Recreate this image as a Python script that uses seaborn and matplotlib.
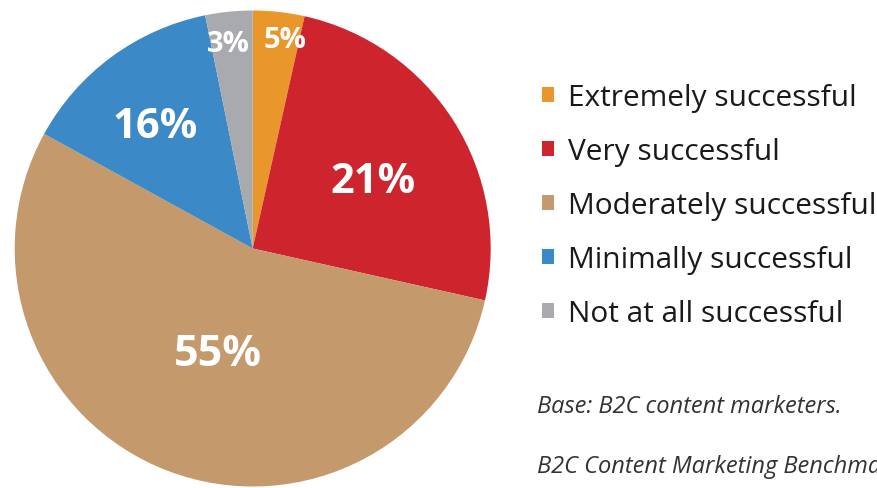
import numpy as np
import matplotlib.pyplot as plt
import seaborn as sns

# slices, clockwise from 12 o'clock
categories = ['Extremely successful', 'Very successful', 'Moderately successful',
              'Minimally successful', 'Not at all successful']
shares = [3.5, 25.0, 54.5, 13.8, 3.2]          # wedge sizes as drawn
pct_labels = ['5%', '21%', '55%', '16%', '3%']  # printed labels
colors = ['#E9962A', '#CD242E', '#C4996B', '#3B89C7', '#A9AAAE']

sns.set_theme(style='white')
plt.rcParams['font.family'] = ['Open Sans', 'DejaVu Sans']

fig = plt.figure(figsize=(8.78, 4.89), dpi=100)
W, H = 878, 489
cx, cy, r = 252.7, 249.5, 238
ax = fig.add_axes([(cx - r) / W, (H - cy - r) / H, 2 * r / W, 2 * r / H])

wedges, _ = ax.pie(shares, colors=colors, startangle=90, counterclock=False,
                   radius=1, wedgeprops=dict(linewidth=0))
ax.set_xlim(-1, 1)
ax.set_ylim(-1, 1)
ax.set_aspect('equal')
ax.axis('off')

# label placement: fraction of radius, angle nudge (deg), font size
lab_r = [0.90, 0.59, 0.45, 0.67, 0.88]
lab_da = [-2.3, -1.7, 1.8, 1.5, 1.0]
lab_fs = [21, 30, 31, 30, 21]
for w, txt, rr, da, fs in zip(wedges, pct_labels, lab_r, lab_da, lab_fs):
    ang = np.deg2rad((w.theta1 + w.theta2) / 2 + da)
    ax.annotate(txt, (rr * np.cos(ang), rr * np.sin(ang)),
                xytext=(0, -0.357 * fs), textcoords='offset points',
                ha='center', va='baseline', color='white',
                fontsize=fs, fontweight='bold')

leg = fig.legend(wedges, categories, loc='upper left',
                 bbox_to_anchor=(530 / W, 1 - 72 / H), frameon=False,
                 fontsize=21.5, handlelength=0.42, handleheight=0.42,
                 handletextpad=0.45, labelspacing=0.84, borderaxespad=0)
for t in leg.get_texts():
    t.set_color('#1a1a1a')

# source notes (second line runs off the right edge, as in the original)
fig.text(537 / W, 1 - 407 / H, 'Base: B2C content marketers.', fontsize=17,
         style='italic', color='#333333', va='center')
fig.text(537 / W, 1 - 467 / H,
         'B2C Content Marketing Benchmarks, Budgets, and Trends', fontsize=17,
         style='italic', color='#333333', va='center')

fig.savefig('out.png', dpi=100)
